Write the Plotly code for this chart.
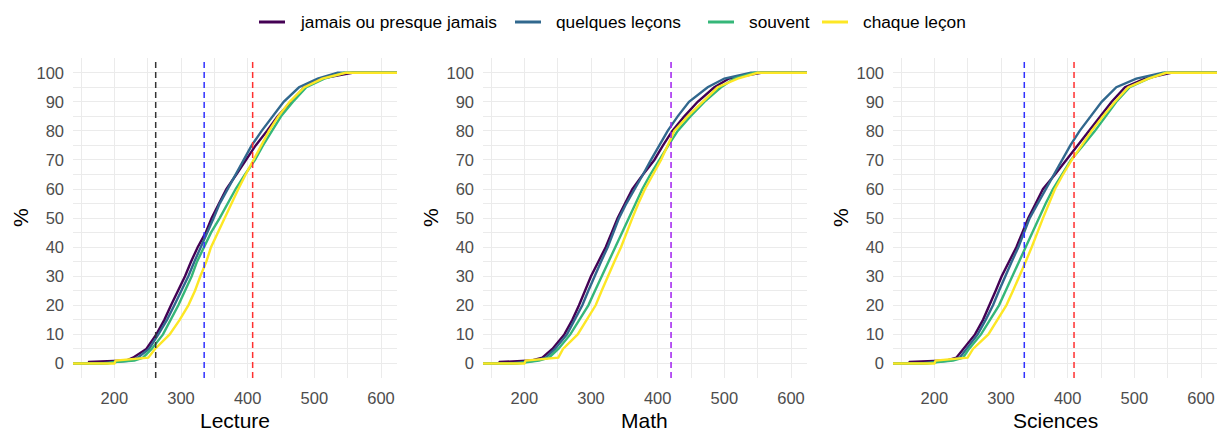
import plotly.graph_objects as go

# Cumulative share of students (%) at which each score is read
PCT = [0, 0.5, 1, 2, 5, 10, 15, 20, 25, 30, 35, 40, 45, 50,
       55, 60, 65, 70, 75, 80, 85, 90, 95, 98, 100]

GROUPS = ["jamais ou presque jamais", "quelques leçons", "souvent", "chaque leçon"]
COLORS = ["#440154", "#31688E", "#35B779", "#FDE725"]

# Score distributions (quantiles at PCT) per subject and group
LECTURE_JAMAIS = [161, 162, 218, 228, 248, 263, 275, 285, 296, 306, 315, 325, 337, 346,
                  357, 368, 383, 398, 412, 429, 445, 465, 485, 510, 557]
LECTURE_QUELQUES = [180, 200, 225, 235, 252, 266, 279, 290, 301, 311, 320, 330, 340, 349,
                    358, 370, 381, 393, 406, 421, 437, 454, 477, 505, 535]
LECTURE_SOUVENT = [190, 200, 230, 243, 256, 273, 285, 296, 306, 316, 324, 334, 345, 358,
                   370, 382, 396, 411, 423, 436, 450, 468, 488, 515, 545]
LECTURE_CHAQUE = [200, 201, 202, 251, 261, 283, 298, 311, 321, 329, 338, 345, 355, 366,
                  376, 386, 397, 409, 420, 432, 446, 463, 485, 512, 547]

MATH_JAMAIS = [161, 163, 210, 227, 242, 260, 272, 282, 291, 300, 311, 322, 331, 340,
               351, 362, 378, 395, 408, 422, 440, 460, 485, 507, 555]
MATH_QUELQUES = [180, 200, 217, 232, 246, 264, 276, 287, 296, 305, 315, 325, 333, 342,
                 353, 366, 378, 390, 402, 415, 430, 447, 475, 500, 540]
MATH_SOUVENT = [190, 205, 222, 237, 251, 269, 283, 296, 306, 316, 327, 337, 347, 357,
                367, 377, 389, 402, 416, 430, 449, 470, 495, 515, 545]
MATH_CHAQUE = [200, 201, 202, 251, 258, 280, 294, 307, 316, 325, 335, 345, 353, 362,
               371, 381, 393, 405, 415, 425, 445, 467, 490, 520, 550]

SCIENCES_JAMAIS = [161, 163, 218, 233, 243, 261, 273, 283, 292, 301, 312, 323, 332, 341,
                   352, 363, 381, 398, 415, 433, 449, 466, 486, 516, 555]
SCIENCES_QUELQUES = [180, 200, 223, 238, 248, 265, 277, 288, 297, 306, 316, 326, 335, 343,
                     355, 367, 379, 391, 404, 418, 434, 451, 473, 503, 543]
SCIENCES_SOUVENT = [190, 205, 228, 243, 252, 270, 284, 297, 307, 317, 327, 337, 346, 356,
                    367, 378, 391, 405, 423, 441, 457, 473, 493, 521, 546]
SCIENCES_CHAQUE = [200, 201, 202, 250, 258, 281, 295, 308, 318, 328, 337, 346, 354, 363,
                   372, 381, 393, 406, 421, 436, 453, 471, 491, 521, 548]

SUBJECTS = ["Lecture", "Math", "Sciences"]
SERIES = {
    "Lecture": [LECTURE_JAMAIS, LECTURE_QUELQUES, LECTURE_SOUVENT, LECTURE_CHAQUE],
    "Math": [MATH_JAMAIS, MATH_QUELQUES, MATH_SOUVENT, MATH_CHAQUE],
    "Sciences": [SCIENCES_JAMAIS, SCIENCES_QUELQUES, SCIENCES_SOUVENT, SCIENCES_CHAQUE],
}

# Proficiency thresholds drawn as dashed verticals
THRESHOLDS = {
    "Lecture": [(262.04, "#333333"), (334.75, "#3030FF"), (407.47, "#FF3030")],
    "Math": [(420.07, "#A020F0")],
    "Sciences": [(334.94, "#3030FF"), (409.54, "#FF3030")],
}

X_TICKS = [200, 300, 400, 500, 600]
Y_TICKS = list(range(0, 101, 10))
X_RANGE = [138, 624]
Y_RANGE = [-5, 105]

W, H = 1223, 432
PANEL_PX = [(73, 397), (483, 807), (893, 1217)]
PANEL_TOP, PANEL_BOTTOM = 58.2, 378.0

# Legend row along the top: key start (px) of each entry, key length, row height
LEGEND_KEY_X = [259, 515, 708, 822]
LEGEND_KEY_LEN = 26
LEGEND_TEXT_OFFSET = 40
LEGEND_Y = 22

FONT = "Liberation Sans, Arial, sans-serif"
GRID = "#EBEBEB"
TICK_COLOR = "#4D4D4D"

fig = go.Figure()

for i, subj in enumerate(SUBJECTS):
    xa = "x" if i == 0 else f"x{i + 1}"
    ya = "y" if i == 0 else f"y{i + 1}"
    for name, color, scores in zip(GROUPS, COLORS, SERIES[subj]):
        fig.add_trace(go.Scatter(
            x=[X_RANGE[0]] + scores + [X_RANGE[1]],
            y=[0] + PCT + [100],
            mode="lines",
            line=dict(color=color, width=2.4),
            name=name,
            showlegend=False,
            xaxis=xa, yaxis=ya,
            hoverinfo="skip",
        ))
    for val, color in THRESHOLDS[subj]:
        fig.add_shape(
            type="line", xref=xa, yref=f"{ya} domain",
            x0=val, x1=val, y0=0, y1=1,
            line=dict(color=color, width=1.5, dash="6px,4px"),
        )

dom_y = [1 - PANEL_BOTTOM / H, 1 - PANEL_TOP / H]
layout_axes = {}
for i, (l, r) in enumerate(PANEL_PX):
    sfx = "" if i == 0 else str(i + 1)
    layout_axes[f"xaxis{sfx}"] = dict(
        domain=[l / W, r / W], range=X_RANGE, anchor=f"y{sfx}",
        tickvals=X_TICKS, ticks="", showline=False, zeroline=False,
        showgrid=True, gridcolor=GRID, gridwidth=1.1,
        minor=dict(dtick=50, tick0=0, showgrid=True, gridcolor=GRID, gridwidth=0.6),
        tickfont=dict(family=FONT, size=16.5, color=TICK_COLOR),
        ticklabelstandoff=8,
    )
    layout_axes[f"yaxis{sfx}"] = dict(
        domain=dom_y, range=Y_RANGE, anchor=f"x{sfx}",
        tickvals=Y_TICKS, ticks="", showline=False, zeroline=False,
        showgrid=True, gridcolor=GRID, gridwidth=1.1,
        minor=dict(dtick=5, tick0=0, showgrid=True, gridcolor=GRID, gridwidth=0.6),
        tickfont=dict(family=FONT, size=16.5, color=TICK_COLOR),
        ticklabelstandoff=8,
    )

annotations = []
for (l, r), subj in zip(PANEL_PX, SUBJECTS):
    annotations.append(dict(
        x=(l + r) / 2 / W, y=1 - 420 / H, xref="paper", yref="paper",
        text=subj, showarrow=False, xanchor="center", yanchor="middle",
        font=dict(family=FONT, size=21, color="#000000"),
    ))
    annotations.append(dict(
        x=(l - 53) / W, y=1 - 218 / H, xref="paper", yref="paper",
        text="%", showarrow=False, textangle=-90, xanchor="center", yanchor="middle",
        font=dict(family=FONT, size=21, color="#000000"),
    ))

# Shared legend: coloured key line followed by the group label
ly = 1 - LEGEND_Y / H
for kx, name, color in zip(LEGEND_KEY_X, GROUPS, COLORS):
    fig.add_shape(
        type="line", xref="paper", yref="paper",
        x0=kx / W, x1=(kx + LEGEND_KEY_LEN) / W, y0=ly, y1=ly,
        line=dict(color=color, width=3),
    )
    annotations.append(dict(
        x=(kx + LEGEND_TEXT_OFFSET) / W, y=ly, xref="paper", yref="paper",
        text=name, showarrow=False, xanchor="left", yanchor="middle",
        xshift=-1, font=dict(family=FONT, size=17.3, color="#000000"),
    ))

fig.update_layout(
    width=W, height=H,
    margin=dict(l=0, r=0, t=0, b=0),
    paper_bgcolor="white", plot_bgcolor="white",
    font=dict(family=FONT),
    showlegend=False,
    annotations=annotations,
    **layout_axes,
)

fig.write_html("out.html")
